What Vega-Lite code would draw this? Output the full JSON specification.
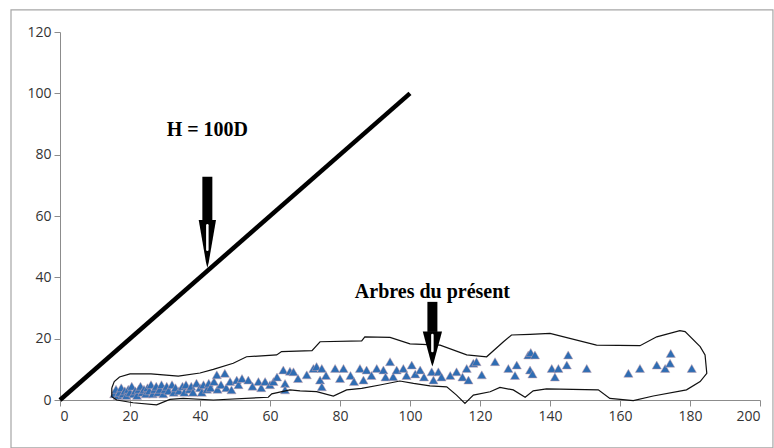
{
  "$schema": "https://vega.github.io/schema/vega-lite/v6.json",
  "width": 700,
  "height": 368,
  "autosize": {"type": "none"},
  "padding": {"left": 60, "top": 32, "right": 14, "bottom": 48},
  "background": "white",
  "config": {
    "view": {"stroke": null},
    "axis": {
      "grid": false,
      "domainColor": "#8c8c8c",
      "domainWidth": 1,
      "tickColor": "#8c8c8c",
      "tickSize": 6,
      "labelFont": "Open Sans",
      "labelFontSize": 14,
      "labelColor": "#333333",
      "labelPadding": 3
    },
    "axisX": {"labelPadding": 3}
  },
  "datasets": {
    "trees": [
      {"d": 15.5, "h": 2}, {"d": 16, "h": 3.5}, {"d": 16.5, "h": 1.5}, {"d": 17, "h": 2.5}, {"d": 17.5, "h": 4},
      {"d": 18, "h": 2}, {"d": 18.5, "h": 3}, {"d": 19, "h": 1.5}, {"d": 19.5, "h": 3.5}, {"d": 20, "h": 2.5},
      {"d": 20.5, "h": 4.5}, {"d": 21, "h": 2}, {"d": 21.5, "h": 3}, {"d": 22, "h": 1.5}, {"d": 22.5, "h": 3.5},
      {"d": 23, "h": 4.5}, {"d": 23.5, "h": 2.5}, {"d": 24, "h": 3.5}, {"d": 24.5, "h": 2}, {"d": 25, "h": 4},
      {"d": 25.5, "h": 3}, {"d": 26, "h": 5}, {"d": 26.5, "h": 2}, {"d": 27, "h": 3.5}, {"d": 27.5, "h": 4.5},
      {"d": 28, "h": 2.5}, {"d": 28.5, "h": 3.5}, {"d": 29, "h": 5}, {"d": 29.5, "h": 2}, {"d": 30, "h": 3.5},
      {"d": 30.5, "h": 4.5}, {"d": 31, "h": 3}, {"d": 32, "h": 5}, {"d": 32.5, "h": 2.5}, {"d": 33, "h": 4},
      {"d": 34, "h": 3}, {"d": 35, "h": 4.5}, {"d": 35.5, "h": 2.5}, {"d": 36, "h": 5}, {"d": 37, "h": 3.5},
      {"d": 37.5, "h": 4.5}, {"d": 38, "h": 2.5}, {"d": 39, "h": 5.5}, {"d": 40, "h": 4}, {"d": 40.5, "h": 2.5},
      {"d": 41, "h": 5}, {"d": 42, "h": 3.5}, {"d": 42.5, "h": 5.5}, {"d": 43, "h": 4}, {"d": 44, "h": 6},
      {"d": 44.8, "h": 8.2}, {"d": 45, "h": 3.5}, {"d": 46, "h": 5}, {"d": 47.1, "h": 8.7}, {"d": 47.5, "h": 4},
      {"d": 48.6, "h": 6}, {"d": 49, "h": 3.3}, {"d": 50.5, "h": 6.5}, {"d": 51, "h": 5}, {"d": 52, "h": 7},
      {"d": 53.8, "h": 6.5}, {"d": 55, "h": 4.5}, {"d": 56.7, "h": 6}, {"d": 57.5, "h": 4}, {"d": 58.6, "h": 6},
      {"d": 60, "h": 5}, {"d": 61, "h": 6}, {"d": 62, "h": 7.5}, {"d": 63.8, "h": 9.8}, {"d": 64.3, "h": 5.4},
      {"d": 64.3, "h": 3.3}, {"d": 65.7, "h": 9.4}, {"d": 66.7, "h": 9.2}, {"d": 68, "h": 7}, {"d": 70.5, "h": 8.2},
      {"d": 72.4, "h": 10.3}, {"d": 73.3, "h": 10.9}, {"d": 74.3, "h": 6.5}, {"d": 74.8, "h": 10.3}, {"d": 74.8, "h": 4.3},
      {"d": 76, "h": 8}, {"d": 78.6, "h": 10.3}, {"d": 80, "h": 7}, {"d": 81, "h": 10.3},
      {"d": 83, "h": 8}, {"d": 84, "h": 6}, {"d": 85.7, "h": 10.3}, {"d": 86.7, "h": 6.5}, {"d": 87.6, "h": 9.8},
      {"d": 89, "h": 8}, {"d": 90.5, "h": 10.3}, {"d": 92.4, "h": 9.8}, {"d": 93, "h": 7.5}, {"d": 94.3, "h": 12.5},
      {"d": 95.2, "h": 7.6}, {"d": 96.2, "h": 9.8}, {"d": 98.1, "h": 10.3}, {"d": 99, "h": 8}, {"d": 100.5, "h": 11.4},
      {"d": 101.5, "h": 8.5}, {"d": 102.9, "h": 9.8}, {"d": 104, "h": 7.5}, {"d": 106.2, "h": 9.2}, {"d": 106.7, "h": 6.5},
      {"d": 108.1, "h": 9.2}, {"d": 109, "h": 7.5}, {"d": 111.5, "h": 8}, {"d": 113.3, "h": 9.2}, {"d": 115, "h": 7.5},
      {"d": 116.2, "h": 10.3}, {"d": 116.7, "h": 6.5}, {"d": 118.1, "h": 12}, {"d": 119, "h": 12.5}, {"d": 120.5, "h": 8.2},
      {"d": 124.3, "h": 12.5}, {"d": 128.1, "h": 10.3}, {"d": 130, "h": 8}, {"d": 130.5, "h": 11.4}, {"d": 133.8, "h": 14.7},
      {"d": 134.5, "h": 15.5}, {"d": 135.7, "h": 14.7}, {"d": 134.3, "h": 9.8}, {"d": 135, "h": 8.5}, {"d": 140.5, "h": 10.3},
      {"d": 141.4, "h": 7.5}, {"d": 142.4, "h": 10.3}, {"d": 144.8, "h": 11.4}, {"d": 145.2, "h": 14.7}, {"d": 150.5, "h": 10.3},
      {"d": 162.4, "h": 8.7}, {"d": 165.7, "h": 10.3}, {"d": 170.5, "h": 11.4}, {"d": 172.9, "h": 10.3}, {"d": 174.3, "h": 12},
      {"d": 174.5, "h": 15.2}, {"d": 180.5, "h": 10.3}
    ],
    "envelope": [
      {"i": 1, "d": 14.8, "h": 3.9}, {"i": 2, "d": 15.5, "h": 6}, {"i": 3, "d": 17, "h": 7.5}, {"i": 4, "d": 20, "h": 8.5},
      {"i": 5, "d": 26, "h": 8.5}, {"i": 6, "d": 33.8, "h": 7.8}, {"i": 7, "d": 40, "h": 8.8}, {"i": 8, "d": 43.8, "h": 10},
      {"i": 9, "d": 49.5, "h": 12}, {"i": 10, "d": 53.3, "h": 14.1}, {"i": 11, "d": 61.9, "h": 14.7}, {"i": 12, "d": 63.3, "h": 15.8},
      {"i": 13, "d": 72, "h": 16.1}, {"i": 14, "d": 74.3, "h": 19}, {"i": 15, "d": 86.2, "h": 19.3}, {"i": 16, "d": 87.1, "h": 20.6},
      {"i": 17, "d": 94.3, "h": 20.4}, {"i": 18, "d": 100, "h": 18.3}, {"i": 19, "d": 108.6, "h": 17.9}, {"i": 20, "d": 116.2, "h": 14.7},
      {"i": 21, "d": 121.9, "h": 14.1}, {"i": 22, "d": 126.7, "h": 19}, {"i": 23, "d": 129, "h": 21.2}, {"i": 24, "d": 134.3, "h": 21.4},
      {"i": 25, "d": 140, "h": 21.7}, {"i": 26, "d": 153.3, "h": 17.9}, {"i": 27, "d": 165.7, "h": 17.7}, {"i": 28, "d": 170.5, "h": 20.6},
      {"i": 29, "d": 177.1, "h": 22.6}, {"i": 30, "d": 178.6, "h": 22.3}, {"i": 31, "d": 182.9, "h": 17.4}, {"i": 32, "d": 184.3, "h": 14.7},
      {"i": 33, "d": 184.8, "h": 8.7}, {"i": 34, "d": 182.9, "h": 6}, {"i": 35, "d": 179, "h": 3.3}, {"i": 36, "d": 169.5, "h": 1.3},
      {"i": 37, "d": 163.8, "h": -0.2}, {"i": 38, "d": 157.1, "h": 0.5}, {"i": 39, "d": 153.8, "h": 3.3}, {"i": 40, "d": 139, "h": 3.6},
      {"i": 41, "d": 135.2, "h": 3}, {"i": 42, "d": 132.9, "h": 0.9}, {"i": 43, "d": 129.5, "h": 3.3}, {"i": 44, "d": 125.7, "h": 4.1},
      {"i": 45, "d": 122.9, "h": 2.7}, {"i": 46, "d": 118.1, "h": 1.6}, {"i": 47, "d": 115.7, "h": -1.1}, {"i": 48, "d": 113.3, "h": 1.6},
      {"i": 49, "d": 110.5, "h": 4.3}, {"i": 50, "d": 105.7, "h": 4.6}, {"i": 51, "d": 101, "h": 5.4}, {"i": 52, "d": 97.1, "h": 6.2},
      {"i": 53, "d": 91.4, "h": 4.9}, {"i": 54, "d": 86.2, "h": 3.8}, {"i": 55, "d": 81.9, "h": 3.3}, {"i": 56, "d": 78.1, "h": 1.3},
      {"i": 57, "d": 73.3, "h": 2.7}, {"i": 58, "d": 68.6, "h": 3}, {"i": 59, "d": 65.7, "h": 3.3}, {"i": 60, "d": 60.5, "h": 2},
      {"i": 61, "d": 59.5, "h": 0.9}, {"i": 62, "d": 43.8, "h": 0}, {"i": 63, "d": 35.2, "h": 0.5}, {"i": 64, "d": 31.4, "h": 0.2},
      {"i": 65, "d": 27.6, "h": -1.6}, {"i": 66, "d": 20.9, "h": -0.9}, {"i": 67, "d": 16.2, "h": 0}, {"i": 68, "d": 14.8, "h": 1.1},
      {"i": 69, "d": 14.8, "h": 3.9}
    ],
    "refline": [{"d": 0, "h": 0}, {"d": 100, "h": 100}],
    "arrows": [
      {"name": "H", "d": 42.1, "top": 72.8, "neck": 58.7, "mid": 50.9, "slitTop": 57, "slitBottom": 49, "label": "H = 100D", "labelH": 88},
      {"name": "A", "d": 106.4, "top": 32, "neck": 22.2, "mid": 16.6, "slitTop": 21.2, "slitBottom": 16, "label": "Arbres du présent", "labelH": 35.2}
    ],
    "frame": [{"d0": -14, "d1": 203.7, "h0": 127.2, "h1": -15.6}]
  },
  "layer": [
    {
      "data": {"name": "frame"},
      "mark": {"type": "rect", "fill": null, "fillOpacity": 0, "stroke": "#a6a6a6", "strokeWidth": 1.2, "clip": false},
      "encoding": {
        "x": {"field": "d0", "type": "quantitative", "scale": {"domain": [0, 200], "nice": false}, "title": null},
        "x2": {"field": "d1"},
        "y": {"field": "h0", "type": "quantitative", "scale": {"domain": [0, 120], "nice": false}, "title": null},
        "y2": {"field": "h1"}
      }
    },
    {
      "data": {"name": "trees"},
      "mark": {"type": "point", "shape": "triangle-up", "filled": true, "size": 85, "fill": "#2f6db3", "stroke": "#c9a3ad", "strokeWidth": 0.5, "opacity": 1},
      "encoding": {
        "x": {"field": "d", "type": "quantitative", "scale": {"domain": [0, 200], "nice": false}, "title": null,
              "axis": {"values": [0, 20, 40, 60, 80, 100, 120, 140, 160, 180, 200]}},
        "y": {"field": "h", "type": "quantitative", "scale": {"domain": [0, 120], "nice": false}, "title": null,
              "axis": {"values": [0, 20, 40, 60, 80, 100, 120]}}
      }
    },
    {
      "data": {"name": "envelope"},
      "mark": {"type": "line", "color": "#111111", "strokeWidth": 1.2, "clip": false},
      "encoding": {
        "x": {"field": "d", "type": "quantitative", "scale": {"domain": [0, 200], "nice": false}, "title": null},
        "y": {"field": "h", "type": "quantitative", "scale": {"domain": [0, 120], "nice": false}, "title": null},
        "order": {"field": "i", "type": "quantitative"}
      }
    },
    {
      "data": {"name": "refline"},
      "mark": {"type": "line", "color": "#000000", "strokeWidth": 4.5, "strokeCap": "butt"},
      "encoding": {
        "x": {"field": "d", "type": "quantitative", "scale": {"domain": [0, 200], "nice": false}, "title": null},
        "y": {"field": "h", "type": "quantitative", "scale": {"domain": [0, 120], "nice": false}, "title": null}
      }
    },
    {
      "data": {"name": "arrows"},
      "mark": {"type": "rule", "color": "#000000", "strokeWidth": 10, "strokeCap": "butt"},
      "encoding": {
        "x": {"field": "d", "type": "quantitative", "scale": {"domain": [0, 200], "nice": false}, "title": null},
        "y": {"field": "top", "type": "quantitative", "scale": {"domain": [0, 120], "nice": false}, "title": null},
        "y2": {"field": "neck"}
      }
    },
    {
      "data": {"name": "arrows"},
      "mark": {"type": "point", "filled": true, "color": "#000000", "opacity": 1, "strokeWidth": 0},
      "encoding": {
        "x": {"field": "d", "type": "quantitative", "scale": {"domain": [0, 200], "nice": false}, "title": null},
        "y": {"field": "mid", "type": "quantitative", "scale": {"domain": [0, 120], "nice": false}, "title": null},
        "shape": {"field": "name", "type": "nominal", "legend": null,
                  "scale": {"domain": ["H", "A"], "range": ["M-0.36,-1L0.36,-1L0.06,0.75L0,1L-0.06,0.75Z", "M-0.55,-1L0.55,-1L0.08,0.75L0,1L-0.08,0.75Z"]}},
        "size": {"field": "name", "type": "nominal", "legend": null,
                 "scale": {"domain": ["H", "A"], "range": [2304, 1225]}}
      }
    },
    {
      "data": {"name": "arrows"},
      "mark": {"type": "rule", "color": "#ffffff", "strokeWidth": 2.5, "strokeCap": "round"},
      "encoding": {
        "x": {"field": "d", "type": "quantitative", "scale": {"domain": [0, 200], "nice": false}, "title": null},
        "y": {"field": "slitTop", "type": "quantitative", "scale": {"domain": [0, 120], "nice": false}, "title": null},
        "y2": {"field": "slitBottom"}
      }
    },
    {
      "data": {"name": "arrows"},
      "mark": {"type": "text", "font": "Liberation Serif", "fontWeight": "bold", "fontSize": 20, "color": "#000000", "baseline": "middle", "align": "center"},
      "encoding": {
        "x": {"field": "d", "type": "quantitative", "scale": {"domain": [0, 200], "nice": false}, "title": null},
        "y": {"field": "labelH", "type": "quantitative", "scale": {"domain": [0, 120], "nice": false}, "title": null},
        "text": {"field": "label"}
      }
    }
  ]
}
